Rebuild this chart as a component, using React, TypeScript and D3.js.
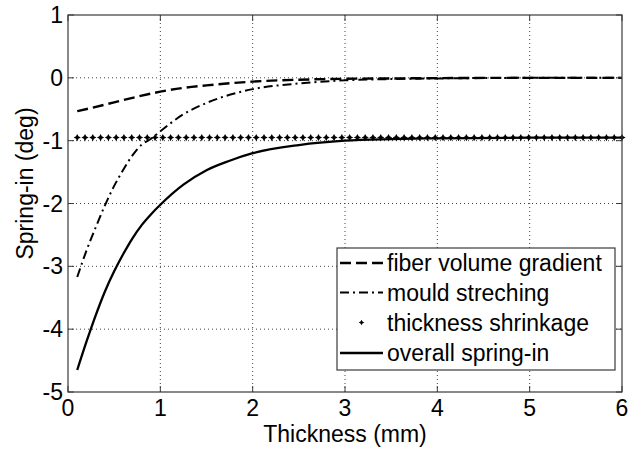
import React from "react";
import * as d3 from "d3";

const fiberT = [0.1, 0.25, 0.5, 0.75, 1.0, 1.25, 1.5, 2.0, 2.5, 3.0, 3.5, 4.0, 5.0, 6.0];
const fiberV = [-0.53, -0.48, -0.39, -0.3, -0.22, -0.16, -0.12, -0.06, -0.03, -0.015, -0.01, -0.005, 0, 0];

const mouldT = [0.1, 0.2, 0.3, 0.4, 0.5, 0.6, 0.7, 0.8, 0.9, 1.0, 1.25, 1.5, 1.75, 2.0, 2.5, 3.0, 3.5, 4.0, 5.0, 6.0];
const mouldV = [-3.17, -2.75, -2.38, -2.03, -1.72, -1.46, -1.23, -1.06, -0.97, -0.85, -0.58, -0.4, -0.27, -0.18, -0.09, -0.04, -0.02, -0.01, 0, 0];

const shrinkStart = 0.1;
const shrinkEnd = 6;
const shrinkCount = 71;
const shrinkValue = -0.95;

const overallT = [0.1, 0.2, 0.3, 0.4, 0.5, 0.6, 0.7, 0.8, 0.9, 1.0, 1.25, 1.5, 1.75, 2.0, 2.5, 3.0, 3.5, 4.0, 5.0, 6.0];
const overallV = [-4.65, -4.2, -3.78, -3.4, -3.08, -2.8, -2.55, -2.34, -2.17, -2.02, -1.7, -1.47, -1.32, -1.2, -1.07, -1.0, -0.975, -0.962, -0.952, -0.95];

const xTicks = [0, 1, 2, 3, 4, 5, 6];
const yTicks = [1, 0, -1, -2, -3, -4, -5];

const legendLabels = ["fiber volume gradient", "mould streching", "thickness shrinkage", "overall spring-in"];

const W = 630;
const H = 450;
const L = 68, R = 622, T = 15, B = 392;
const FONT = "Arial, 'Liberation Sans', sans-serif";
const FS = 23;

export default function App() {
  const x = d3.scaleLinear().domain([0, 6]).range([L, R]);
  const y = d3.scaleLinear().domain([-5, 1]).range([B, T]);
  const line = d3
    .line<[number, number]>()
    .x((d) => x(d[0]))
    .y((d) => y(d[1]))
    .curve(d3.curveMonotoneX);

  const fiber = fiberT.map((t, i) => [t, fiberV[i]] as [number, number]);
  const mould = mouldT.map((t, i) => [t, mouldV[i]] as [number, number]);
  const overall = overallT.map((t, i) => [t, overallV[i]] as [number, number]);
  const shrinkX = d3.range(shrinkCount).map((i) => shrinkStart + ((shrinkEnd - shrinkStart) * i) / (shrinkCount - 1));

  const star = (cx: number, cy: number, s: number) =>
    `M${cx},${cy - s} L${cx + s * 0.35},${cy - s * 0.35} L${cx + s},${cy} L${cx + s * 0.35},${cy + s * 0.35} L${cx},${cy + s} L${cx - s * 0.35},${cy + s * 0.35} L${cx - s},${cy} L${cx - s * 0.35},${cy - s * 0.35} Z`;

  const axisColor = "#3a3a3a";
  const gridColor = "#444";

  const lgX0 = 337, lgX1 = 615, lgY0 = 248, lgY1 = 370;
  const rowY = [263, 292.5, 322.5, 353];
  const sx0 = 340, sx1 = 383;

  return (
    <svg width={W} height={H} style={{ position: "absolute", left: 0, top: 0, background: "#fff" }}>
      <rect x={0} y={0} width={W} height={H} fill="#fff" />
      {/* grid */}
      {xTicks.slice(1, -1).map((t) => (
        <line key={"gx" + t} x1={x(t)} x2={x(t)} y1={T} y2={B} stroke={gridColor} strokeWidth={1} strokeDasharray="1,3" />
      ))}
      {yTicks.slice(1, -1).map((t) => (
        <line key={"gy" + t} x1={L} x2={R} y1={y(t)} y2={y(t)} stroke={gridColor} strokeWidth={1} strokeDasharray="1,3" />
      ))}
      {/* series */}
      <path d={line(fiber) || ""} fill="none" stroke="#000" strokeWidth={2.4} strokeDasharray="11,5" />
      <path d={line(mould) || ""} fill="none" stroke="#000" strokeWidth={2} strokeDasharray="9,4,2,4" />
      {shrinkX.map((t, i) => (
        <path key={"s" + i} d={star(x(t), y(shrinkValue), 3.6)} fill="#000" />
      ))}
      <path d={line(overall) || ""} fill="none" stroke="#000" strokeWidth={2.3} />
      {/* axes box */}
      <rect x={L} y={T} width={R - L} height={B - T} fill="none" stroke={axisColor} strokeWidth={1.2} />
      {xTicks.map((t) => (
        <g key={"xt" + t}>
          <line x1={x(t)} x2={x(t)} y1={B} y2={B - 6} stroke={axisColor} />
          <line x1={x(t)} x2={x(t)} y1={T} y2={T + 6} stroke={axisColor} />
          <text x={x(t)} y={B + 24} textAnchor="middle" fontFamily={FONT} fontSize={FS} fill="#000">
            {t}
          </text>
        </g>
      ))}
      {yTicks.map((t) => (
        <g key={"yt" + t}>
          <line x1={L} x2={L + 6} y1={y(t)} y2={y(t)} stroke={axisColor} />
          <line x1={R} x2={R - 6} y1={y(t)} y2={y(t)} stroke={axisColor} />
          <text x={L - 5} y={y(t) + 8} textAnchor="end" fontFamily={FONT} fontSize={FS} fill="#000">
            {t}
          </text>
        </g>
      ))}
      <text x={(L + R) / 2} y={442} textAnchor="middle" fontFamily={FONT} fontSize={FS} fill="#000">
        Thickness (mm)
      </text>
      <text
        transform={`translate(33, ${(T + B) / 2 - 20}) rotate(-90)`}
        textAnchor="middle"
        fontFamily={FONT}
        fontSize={FS}
        fill="#000"
      >
        Spring-in (deg)
      </text>
      {/* legend */}
      <rect x={lgX0} y={lgY0} width={lgX1 - lgX0} height={lgY1 - lgY0} fill="#fff" stroke={axisColor} strokeWidth={1.2} />
      <line x1={sx0} x2={sx1} y1={rowY[0]} y2={rowY[0]} stroke="#000" strokeWidth={2.4} strokeDasharray="11,5" />
      <line x1={sx0} x2={sx1} y1={rowY[1]} y2={rowY[1]} stroke="#000" strokeWidth={2} strokeDasharray="9,4,2,4" />
      <path d={star((sx0 + sx1) / 2, rowY[2], 2.8)} fill="#000" />
      <line x1={sx0} x2={sx1} y1={rowY[3]} y2={rowY[3]} stroke="#000" strokeWidth={2.3} />
      {legendLabels.map((lbl, i) => (
        <text key={lbl} x={387} y={rowY[i] + 8} fontFamily={FONT} fontSize={FS} fill="#000">
          {lbl}
        </text>
      ))}
    </svg>
  );
}
